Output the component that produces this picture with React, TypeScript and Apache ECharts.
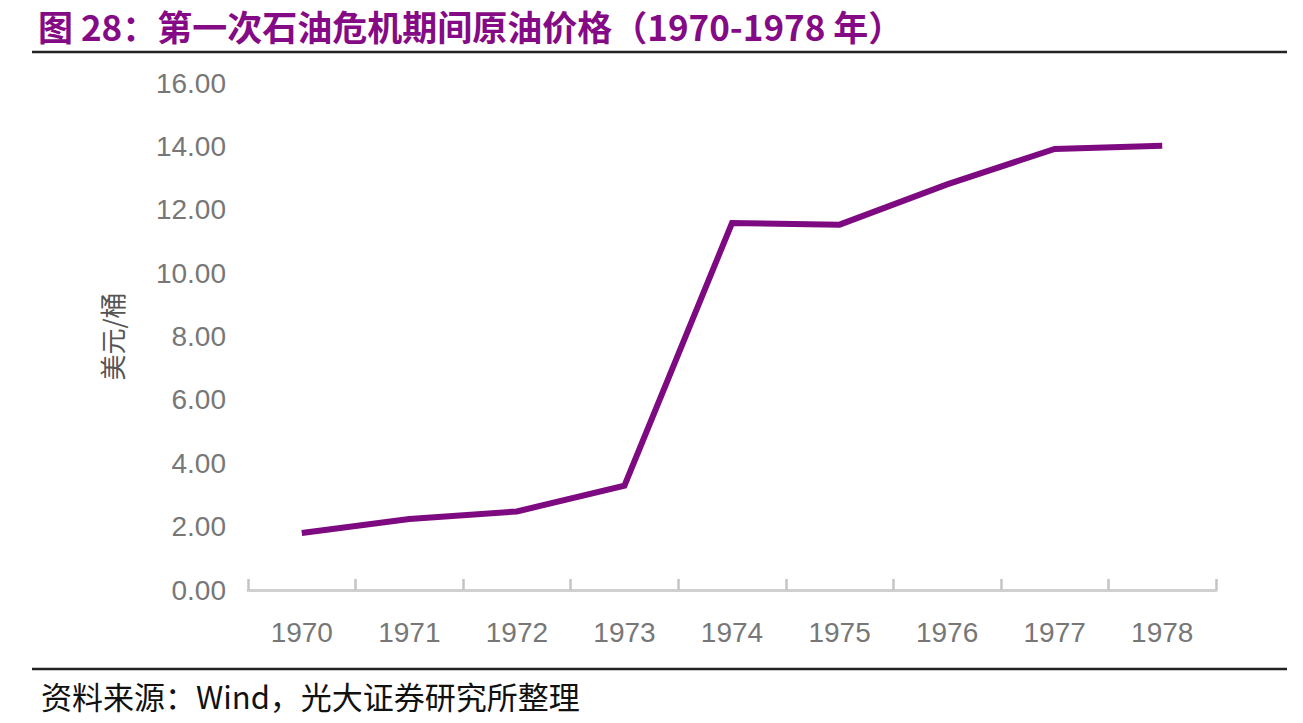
import { useEffect, useRef } from 'react'
import * as echarts from 'echarts'

const years = ['1970', '1971', '1972', '1973', '1974', '1975', '1976', '1977', '1978']
const prices = [1.8, 2.24, 2.48, 3.29, 11.58, 11.53, 12.8, 13.92, 14.02]
const yTicks = { min: 0, max: 16, interval: 2 }

const TITLE = '图 28：第一次石油危机期间原油价格（1970-1978 年）'
const SOURCE = '资料来源：Wind，光大证券研究所整理'

export default function App() {
  const chartRef = useRef<HTMLDivElement>(null)

  useEffect(() => {
    if (!chartRef.current) return
    document.body.style.margin = '0'

    const chart = echarts.init(chartRef.current, null, { renderer: 'svg' })

    const option: echarts.EChartsOption = {
      animation: false,
      backgroundColor: '#fff',
      title: [
        {
          text: TITLE,
          left: 38,
          top: 5,
          padding: 0,
          textStyle: {
            color: '#850a85',
            fontSize: 35,
            lineHeight: 40,
            fontWeight: 'bold',
            fontFamily: '"Noto Sans CJK SC", sans-serif'
          }
        },
        {
          text: SOURCE,
          left: 36,
          top: 675,
          textStyle: {
            color: '#111',
            fontSize: 31,
            fontWeight: 'normal',
            fontFamily: '"Noto Sans CJK SC", sans-serif'
          }
        }
      ],
      graphic: [
        {
          type: 'line',
          shape: { x1: 32, y1: 52, x2: 1287, y2: 52 },
          style: { stroke: '#222', lineWidth: 2.5 }
        },
        {
          type: 'line',
          shape: { x1: 32, y1: 669, x2: 1287, y2: 669 },
          style: { stroke: '#222', lineWidth: 2.5 }
        }
      ],
      grid: {
        left: 248,
        right: 1303 - 1216,
        top: 83,
        bottom: 723 - 590
      },
      xAxis: {
        type: 'category',
        data: years,
        boundaryGap: true,
        axisLine: { lineStyle: { color: '#d0d0d0', width: 3 } },
        axisTick: {
          show: true,
          inside: true,
          length: 11,
          lineStyle: { color: '#c4c4c4', width: 2.5 }
        },
        axisLabel: {
          color: '#777',
          fontSize: 28,
          margin: 28,
          fontFamily: '"Liberation Sans", Arial, sans-serif'
        }
      },
      yAxis: {
        type: 'value',
        min: yTicks.min,
        max: yTicks.max,
        interval: yTicks.interval,
        name: '美元/桶',
        nameLocation: 'middle',
        nameGap: 124,
        nameTextStyle: {
          color: '#555',
          fontSize: 26,
          fontFamily: '"Noto Sans CJK SC", sans-serif'
        },
        axisLine: { show: false },
        axisTick: { show: false },
        splitLine: { show: false },
        axisLabel: {
          color: '#777',
          fontSize: 28,
          margin: 22,
          fontFamily: '"Liberation Sans", Arial, sans-serif',
          formatter: (v: number) => v.toFixed(2)
        }
      },
      series: [
        {
          type: 'line',
          data: prices,
          showSymbol: false,
          symbol: 'none',
          lineStyle: { color: '#7d0a80', width: 6, join: 'miter' }
        }
      ]
    }

    chart.setOption(option)

    return () => {
      chart.dispose()
    }
  }, [])

  return <div ref={chartRef} style={{ width: 1303, height: 723 }} />
}
